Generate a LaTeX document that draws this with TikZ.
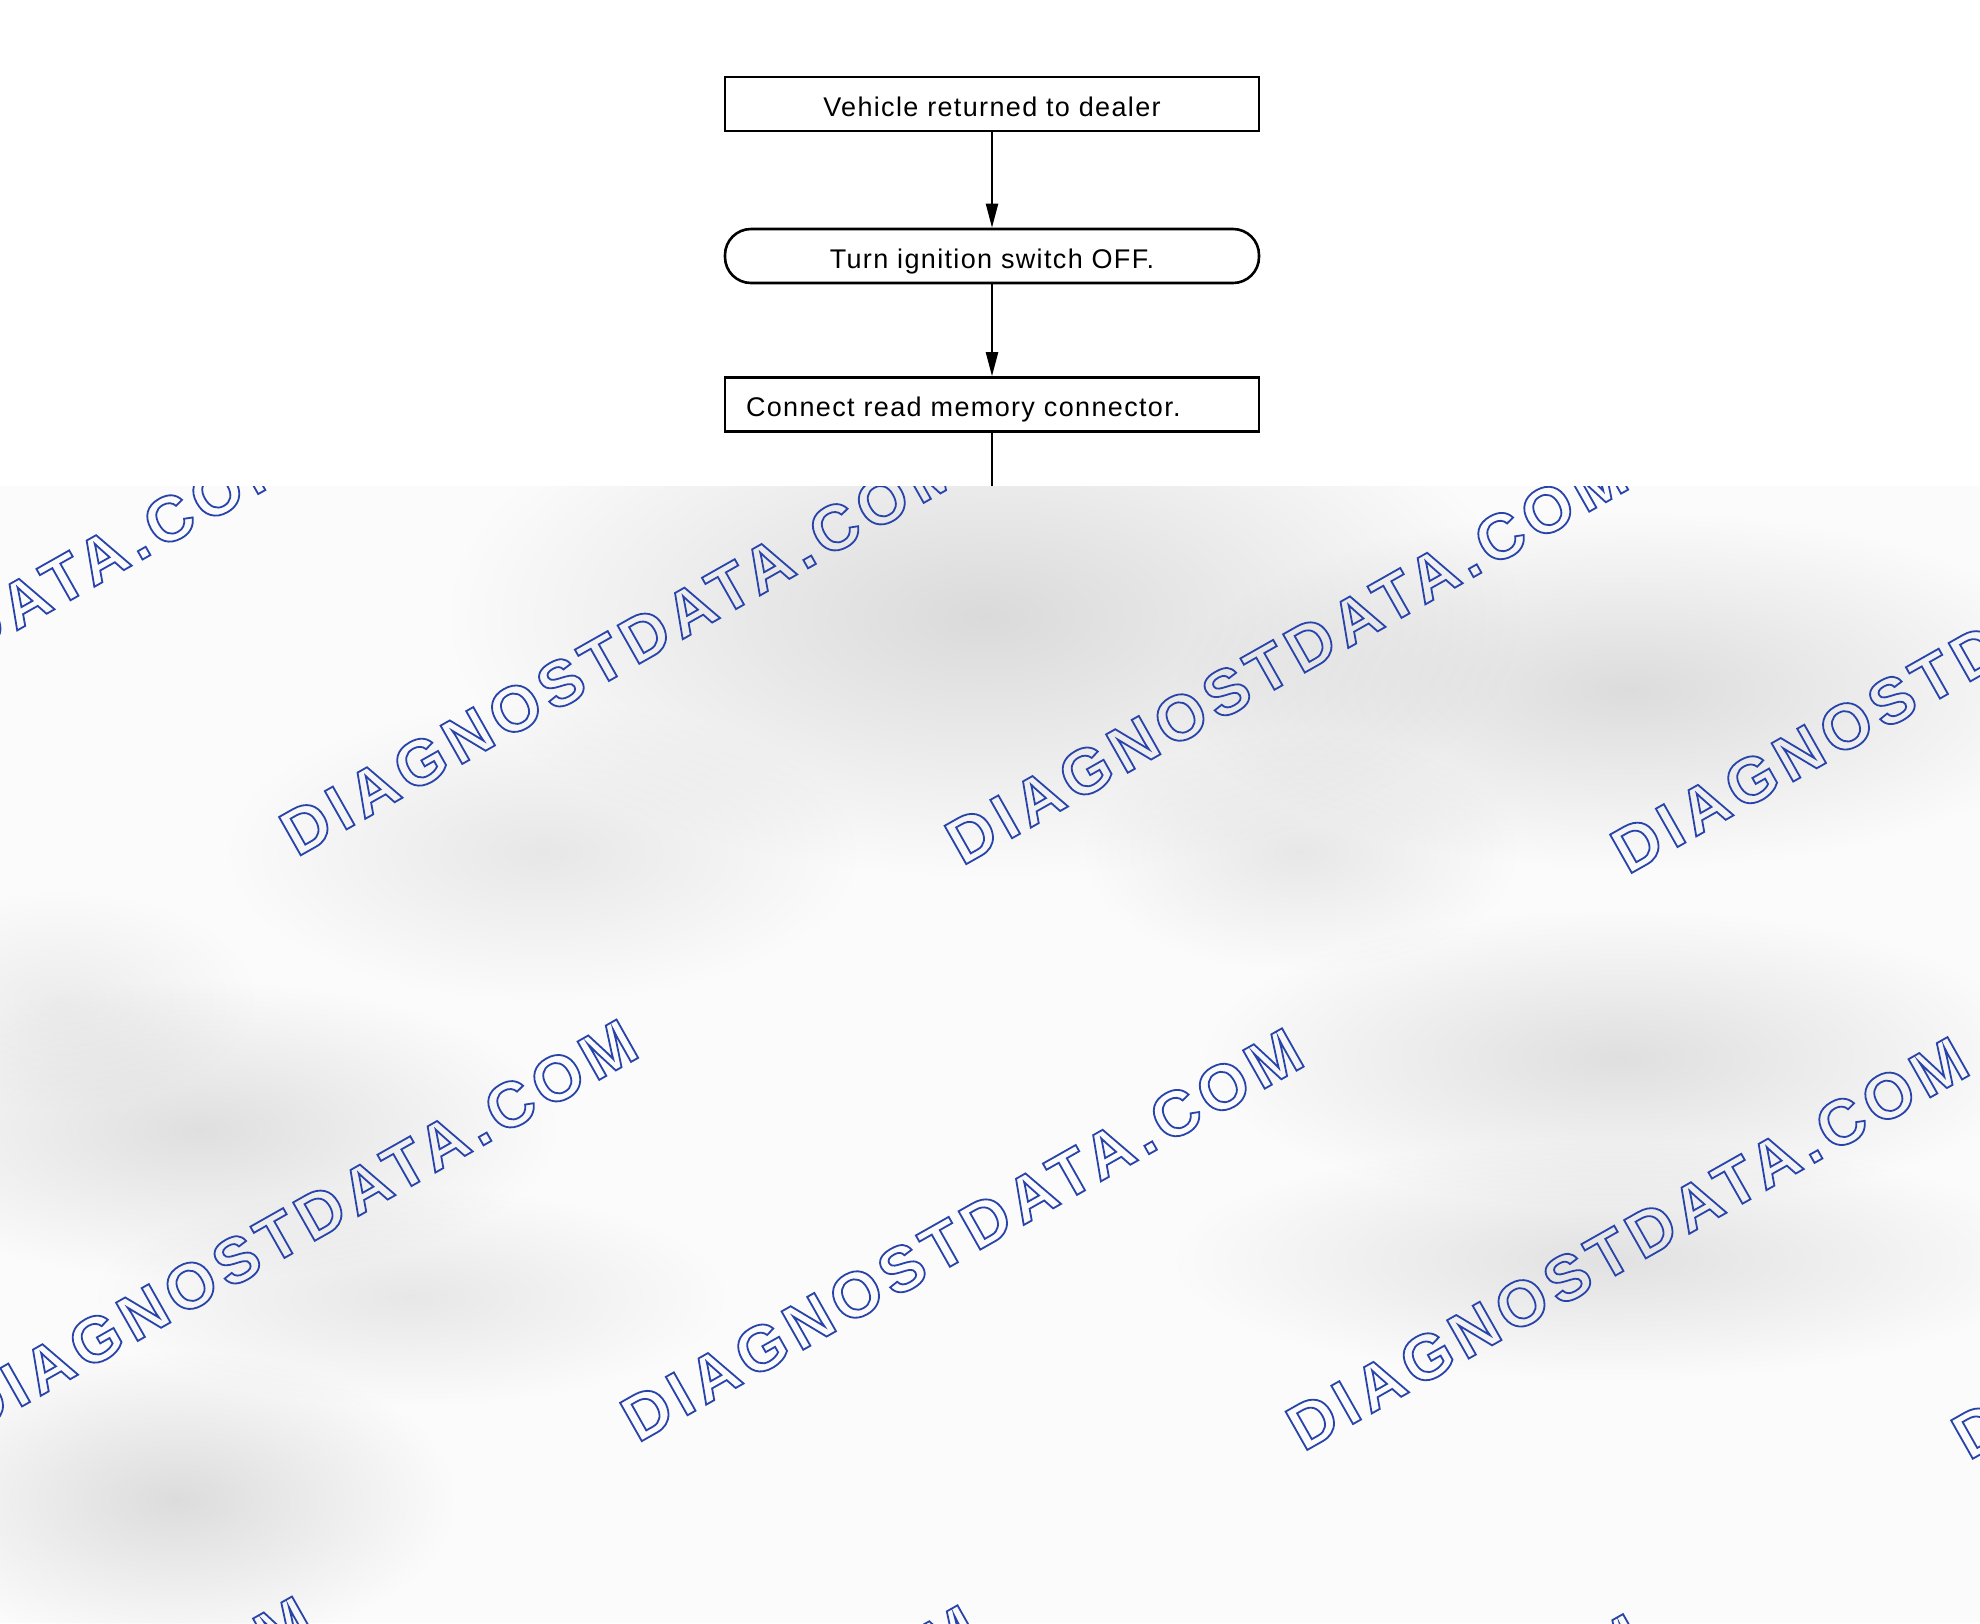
\documentclass[tikz,border=0pt]{standalone}
\usepackage{fontspec}
\usepackage{xcolor}
\usetikzlibrary{arrows.meta,fadings}
\newfontfamily\flowfont{Liberation Sans}[LetterSpace=5]
\newfontfamily\wmfont{Liberation Sans}[LetterSpace=10]
\definecolor{wmblue}{RGB}{40,68,170}
\definecolor{overlaybg}{RGB}{251,251,251}
\newcommand{\outlinetext}[1]{\special{pdf:literal direct 1 Tr 0.9 w}#1\special{pdf:literal direct 0 Tr}}
\tikzfading[name=softblob, inner color=transparent!0, outer color=transparent!100]
\tikzset{
  flowbox/.style={draw=black, line width=1.3pt, minimum width=267pt, minimum height=27pt,
    inner sep=0pt, text height=12.3pt, text depth=0pt,
    font=\flowfont\fontsize{13.5}{16}\selectfont},
  flowround/.style={flowbox, rounded corners=13pt},
  flowarrow/.style={draw=black, line width=1.1pt, -{Triangle[length=12pt,width=6pt]}},
  flowline/.style={draw=black, line width=1.1pt},
  wmtext/.style={rotate=29.5, anchor=base west, inner sep=0pt, text=wmblue,
    font=\wmfont\bfseries\fontsize{32}{32}\selectfont},
  blob/.style={fill=black, opacity=#1, path fading=softblob}
}
\begin{document}
\begin{tikzpicture}[x=0.5pt,y=-0.5pt]
\useasboundingbox (0,0) rectangle (1980,1623);
\fill[white] (0,0) rectangle (1980,1623);

% watermark overlay region
\begin{scope}
  \clip (0,486) rectangle (1980,1623);
  \fill[overlaybg] (0,486) rectangle (1980,1623);
  \fill[blob=0.13] (985,617) ellipse [x radius=270pt, y radius=130pt];
  \fill[blob=0.12] (1630,690) ellipse [x radius=230pt, y radius=90pt];
  \fill[blob=0.08] (543,852) ellipse [x radius=160pt, y radius=75pt];
  \fill[blob=0.08] (1300,852) ellipse [x radius=110pt, y radius=60pt];
  \fill[blob=0.11] (200,1130) ellipse [x radius=180pt, y radius=75pt];
  \fill[blob=0.11] (1620,1058) ellipse [x radius=210pt, y radius=75pt];
  \fill[blob=0.08] (410,1297) ellipse [x radius=160pt, y radius=55pt];
  \fill[blob=0.10] (1610,1260) ellipse [x radius=220pt, y radius=60pt];
  \fill[blob=0.12] (177,1500) ellipse [x radius=140pt, y radius=75pt];
  \fill[blob=0.06] (60,1000) ellipse [x radius=100pt, y radius=55pt];
  \foreach \j in {-1,0,1}{
    \foreach \i in {-2,-1,0,1,2}{
      \pgfmathsetmacro{\wx}{637.7+665.5*\i-324.5*\j}
      \pgfmathsetmacro{\wy}{1443.4+8.8*\i+577*\j}
      \node[wmtext] (wm\i\j) at (\wx,\wy) {\outlinetext{DIAGNOSTDATA.COM}};
    }
  }
\end{scope}

% flowchart
\node[flowbox] (n1) at (992,104) {Vehicle returned to dealer};
\node[flowround] (n2) at (992,256) {Turn ignition switch OFF.};
\node[flowbox, text width=246pt, inner xsep=10.5pt, align=left] (n3) at (992,404.5) {Connect read memory connector.};
\coordinate (cut) at (992,486);

\draw[flowarrow] (n1) -- (n2);
\draw[flowarrow] (n2) -- (n3);
\draw[flowline] (n3.south) -- (cut);
\end{tikzpicture}
\end{document}
